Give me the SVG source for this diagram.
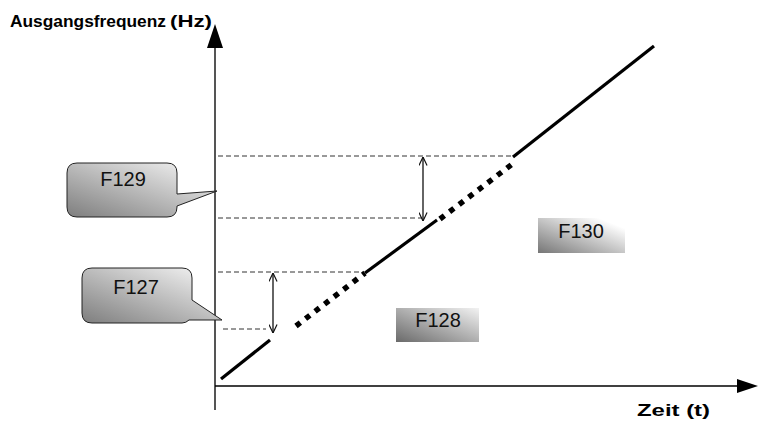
<svg xmlns="http://www.w3.org/2000/svg" width="762" height="421" viewBox="0 0 762 421">
<defs>
<style>
.lbl{font-family:"Liberation Sans",Arial,sans-serif;font-weight:bold;fill:#000}
.box{font-family:"Liberation Sans",Arial,sans-serif;font-size:20px;fill:#111;text-anchor:middle}
.dash{stroke:#333;stroke-width:1;stroke-dasharray:5 3;fill:none}
.solid{stroke:#000;stroke-width:3.2;fill:none}
.dot{stroke:#000;stroke-width:5.5;stroke-dasharray:5.5 6.5;fill:none}
.dbl{stroke:#111;stroke-width:1.3;fill:none;marker-start:url(#open);marker-end:url(#open)}
.callout{stroke:#222;stroke-width:1;fill:url(#gCall)}
</style>
<linearGradient id="gCall" x1="0" y1="1" x2="1" y2="0">
<stop offset="0" stop-color="#7e7e7e"/>
<stop offset="1" stop-color="#fafafa"/>
</linearGradient>
<linearGradient id="gBox" x1="0" y1="1" x2="1" y2="0">
<stop offset="0" stop-color="#6a6a6a"/>
<stop offset="1" stop-color="#f2f2f2"/>
</linearGradient>
<linearGradient id="gBox2" x1="0" y1="1" x2="1" y2="0">
<stop offset="0" stop-color="#767676"/>
<stop offset="0.85" stop-color="#ffffff"/>
</linearGradient>
<marker id="open" viewBox="0 0 10 10" refX="9.5" refY="5" markerWidth="9" markerHeight="9" markerUnits="userSpaceOnUse" orient="auto-start-reverse">
<path d="M0,0.5 L9.5,5 L0,9.5" fill="none" stroke="#111" stroke-width="1.3"/>
</marker>
</defs>

<g id="axes">
<line x1="215" y1="410" x2="215" y2="46" stroke="#555" stroke-width="2"/>
<polygon points="215,24 207,48 223,48" fill="#000"/>
<line x1="215" y1="386" x2="740" y2="386" stroke="#000" stroke-width="1.6"/>
<polygon points="758,386 737,379 737,393" fill="#000"/>
<text class="lbl" x="10" y="27" font-size="16" textLength="156" lengthAdjust="spacingAndGlyphs">Ausgangsfrequenz</text>
<text class="lbl" x="170" y="27" font-size="17" textLength="42" lengthAdjust="spacingAndGlyphs">(Hz)</text>
<text class="lbl" x="637" y="416" font-size="16" textLength="73" lengthAdjust="spacingAndGlyphs">Zeit (t)</text>
</g>

<g id="connectors">
<line class="dash" x1="218" y1="156" x2="513" y2="156"/>
<line class="dash" x1="218" y1="218" x2="422" y2="218"/>
<line class="dash" x1="218" y1="272" x2="362" y2="272"/>
<line class="dash" x1="223" y1="329" x2="266" y2="329"/>
<line class="dbl" x1="423" y1="157" x2="423" y2="221"/>
<line class="dbl" x1="273" y1="273" x2="273" y2="333"/>
<line class="solid" x1="221" y1="379" x2="270" y2="340"/>
<line class="dot" x1="296" y1="326" x2="365" y2="273"/>
<line class="solid" x1="365" y1="273" x2="437" y2="220"/>
<line class="dot" x1="440" y1="219" x2="515" y2="162"/>
<line class="solid" x1="513" y1="157" x2="654" y2="46"/>
</g>

<g id="F129">
<path class="callout" d="M77,163 H167 Q177,163 177,173 V194 L217,191 L177,206 V207 Q177,217 167,217 H77 Q67,217 67,207 V173 Q67,163 77,163 Z"/>
<text class="box" x="123" y="186">F129</text>
</g>

<g id="F127">
<path class="callout" d="M92,268 H182 Q192,268 192,278 V300 L222,320 L189,320 Q186,323 182,323 H92 Q82,323 82,313 V278 Q82,268 92,268 Z"/>
<text class="box" x="136" y="294">F127</text>
</g>

<g id="F128">
<rect x="396" y="308" width="83" height="34" fill="url(#gBox)"/>
<text class="box" x="438" y="327">F128</text>
</g>

<g id="F130">
<rect x="538" y="218" width="87" height="35" fill="url(#gBox2)"/>
<text class="box" x="581" y="238">F130</text>
</g>
</svg>
